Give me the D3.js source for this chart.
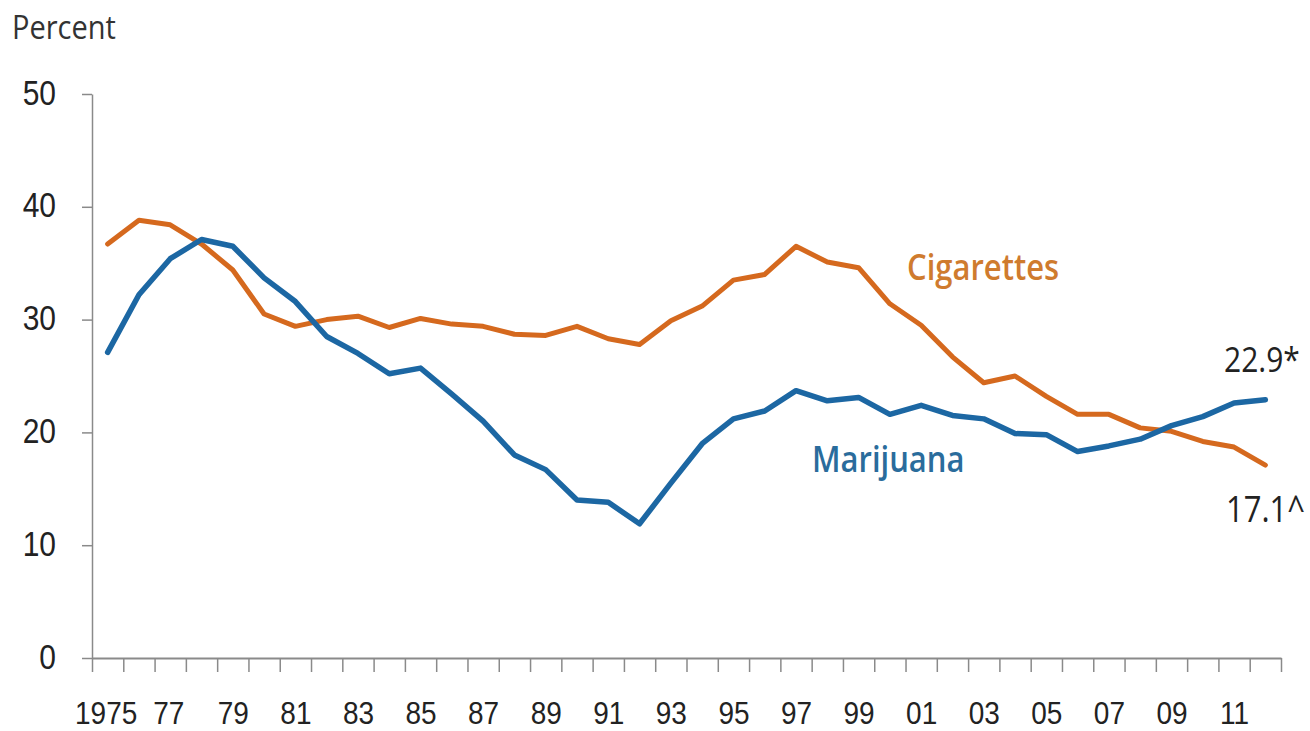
<!DOCTYPE html>
<html>
<head>
<meta charset="utf-8">
<script src="https://cdn.jsdelivr.net/npm/d3@7"></script>
<style>
  body { margin: 0; background: #fff; }
  svg { display: block; font-family: "Open Sans", "Noto Sans", sans-serif; }
</style>
</head>
<body>
<svg id="chart" width="1310" height="731"></svg>
<script>
// past-30-day use, percent
var years = d3.range(1975, 2013);
var marijuana = [27.1, 32.2, 35.4, 37.1, 36.5, 33.7, 31.6, 28.5, 27.0, 25.2,
                 25.7, 23.4, 21.0, 18.0, 16.7, 14.0, 13.8, 11.9, 15.5, 19.0,
                 21.2, 21.9, 23.7, 22.8, 23.1, 21.6, 22.4, 21.5, 21.2, 19.9,
                 19.8, 18.3, 18.8, 19.4, 20.6, 21.4, 22.6, 22.9];
var cigarettes = [36.7, 38.8, 38.4, 36.7, 34.4, 30.5, 29.4, 30.0, 30.3, 29.3,
                  30.1, 29.6, 29.4, 28.7, 28.6, 29.4, 28.3, 27.8, 29.9, 31.2,
                  33.5, 34.0, 36.5, 35.1, 34.6, 31.4, 29.5, 26.7, 24.4, 25.0,
                  23.2, 21.6, 21.6, 20.4, 20.1, 19.2, 18.7, 17.1];
var yTicks = [0, 10, 20, 30, 40, 50];
var labelYears = d3.range(1975, 2013, 2);

var svg = d3.select("#chart");
var stretch = 1.15;   // text in the source is a bit tall

var x = d3.scaleLinear().domain([1974.5, 2012.5]).range([92, 1281]);
var y = d3.scaleLinear().domain([0, 50]).range([658, 94]);

// y axis
var yAxis = svg.append("g")
  .attr("transform", "translate(92,0)")
  .call(d3.axisLeft(y).tickValues(yTicks).tickSize(10).tickSizeOuter(0));
yAxis.select(".domain").attr("stroke", "#8a8a8a").attr("stroke-width", 1.5);
yAxis.selectAll(".tick line").attr("stroke", "#8a8a8a").attr("stroke-width", 1.5);
yAxis.selectAll(".tick text")
  .attr("x", 0).attr("dy", 0)
  .attr("transform", "translate(-36,10) scale(1," + stretch + ")")
  .attr("fill", "#222").style("font-size", "30px");

// x axis: ticks on the year boundaries
var xTicks = svg.append("g")
  .attr("transform", "translate(0,658)")
  .call(d3.axisBottom(x).tickValues(d3.range(1974.5, 2013, 1)).tickSize(14)
    .tickSizeOuter(0).tickFormat(""));
xTicks.select(".domain").attr("stroke", "#8a8a8a").attr("stroke-width", 2);
xTicks.selectAll(".tick line").attr("stroke", "#8a8a8a").attr("stroke-width", 1.5);

var xLabels = svg.append("g")
  .attr("transform", "translate(0,658)")
  .call(d3.axisBottom(x).tickValues(labelYears).tickSize(0)
    .tickFormat(function(d) { return d == 1975 ? "1975" : d3.format("02d")(d % 100); }));
xLabels.select(".domain").remove();
xLabels.selectAll(".tick text")
  .attr("y", 0).attr("dy", 0)
  .attr("transform", function(d) { return "translate(" + (d == 1975 ? -2 : d == 1977 ? -2 : 0) + ",66) scale(1," + stretch + ")"; })
  .attr("fill", "#222").style("font-size", "28px");

// lines
var line = d3.line()
  .x(function(d, i) { return x(years[i]); })
  .y(function(d) { return y(d); });

svg.append("path").datum(cigarettes)
  .attr("d", line)
  .attr("fill", "none")
  .attr("stroke", "#d5691e")
  .attr("stroke-width", 5)
  .attr("stroke-linejoin", "round")
  .attr("stroke-linecap", "round");

svg.append("path").datum(marijuana)
  .attr("d", line)
  .attr("fill", "none")
  .attr("stroke", "#1c67a3")
  .attr("stroke-width", 5.5)
  .attr("stroke-linejoin", "round")
  .attr("stroke-linecap", "round");

// text
function label(txt, px, py, size, color, weight) {
  svg.append("text")
    .attr("transform", "translate(" + px + "," + py + ") scale(1," + stretch + ")")
    .attr("fill", color)
    .style("font-size", size + "px")
    .style("font-weight", weight)
    .text(txt);
}

label("Percent", 12, 39, 29, "#333", 400);
label("Cigarettes", 907, 280, 31, "#cf7b2e", 600);
label("Marijuana", 812, 472, 31, "#2a6c9c", 600);
label("22.9*", 1224, 372, 30, "#222", 400);
label("17.1^", 1226, 522, 31, "#222", 400);
</script>
</body>
</html>
